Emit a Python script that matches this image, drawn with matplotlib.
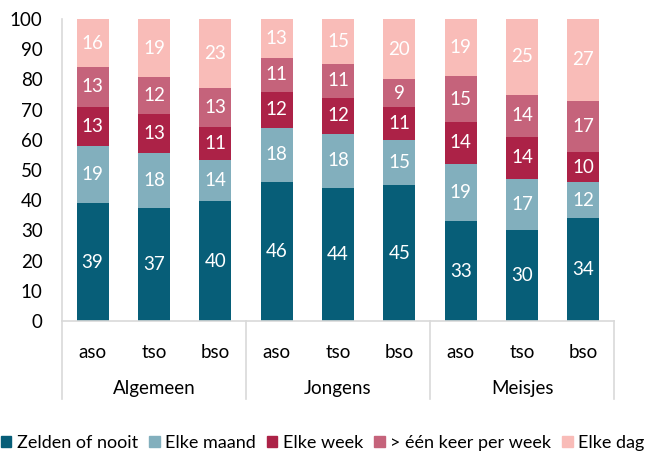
import numpy as np
import matplotlib.pyplot as plt
from matplotlib.lines import Line2D

plt.rcParams['font.family'] = ['Lato', 'DejaVu Sans']

groups = ['Algemeen', 'Jongens', 'Meisjes']
types = ['aso', 'tso', 'bso']
series = ['Zelden of nooit', 'Elke maand', 'Elke week', '> één keer per week', 'Elke dag']
colors = ['#075e78', '#82afbd', '#ac2247', '#c5637b', '#f9bcb8']

zelden = [39, 37, 40, 46, 44, 45, 33, 30, 34]
maand = [19, 18, 14, 18, 18, 15, 19, 17, 12]
week = [13, 13, 11, 12, 12, 11, 14, 14, 10]
meer = [13, 12, 13, 11, 11, 9, 15, 14, 17]
dag = [16, 19, 23, 13, 15, 20, 19, 25, 27]

values = np.array([zelden, maand, week, meer, dag], dtype=float)
# 100% stacked: scale each bar to total 100, labels keep the rounded values
shares = values / values.sum(axis=0) * 100

fig = plt.figure(figsize=(6.45, 4.54), dpi=100)
ax = fig.add_axes([0.096, 0.293, 0.856, 0.665])

x = np.arange(9)
bottom = np.zeros(9)
for vals, h, col, name in zip(values, shares, colors, series):
    ax.bar(x, h, 0.52, bottom=bottom, color=col, label=name)
    for xi, b, hv, v in zip(x, bottom, h, vals):
        ax.text(xi, b + hv / 2, str(int(v)), ha='center', va='center', color='white', fontsize=13.5)
    bottom += h

ax.set_xlim(-0.5, 8.5)
ax.set_ylim(0, 100)
ax.set_yticks(range(0, 101, 10))
ax.tick_params(axis='y', length=0, labelsize=13.5, pad=14)
ax.set_xticks([])
for s in ['top', 'right']:
    ax.spines[s].set_visible(False)
ax.spines['left'].set_color('#d9d9d9')
ax.spines['bottom'].set_color('#d9d9d9')
ax.spines['left'].set_linewidth(1.2)
ax.spines['bottom'].set_linewidth(1.2)

trans = ax.get_xaxis_transform()
for xi in x:
    ax.text(xi, -0.105, types[xi % 3], transform=trans, ha='center', va='center', fontsize=13.5)
for gi, g in enumerate(groups):
    ax.text(gi * 3 + 1, -0.222, g, transform=trans, ha='center', va='center', fontsize=13.5)
for sep in [-0.5, 2.5, 5.5, 8.5]:
    ax.add_line(Line2D([sep, sep], [0, -0.26], transform=trans, color='#d9d9d9', lw=1.2, clip_on=False))

handles = [plt.Rectangle((0, 0), 1, 1, color=c) for c in colors]
fig.legend(handles, series, loc='center', bbox_to_anchor=(0.5, 0.025), ncol=5, frameon=False,
           fontsize=13, handlelength=0.6, handleheight=0.6, handletextpad=0.3, columnspacing=0.6,
           borderpad=0)

plt.savefig('out.png')
